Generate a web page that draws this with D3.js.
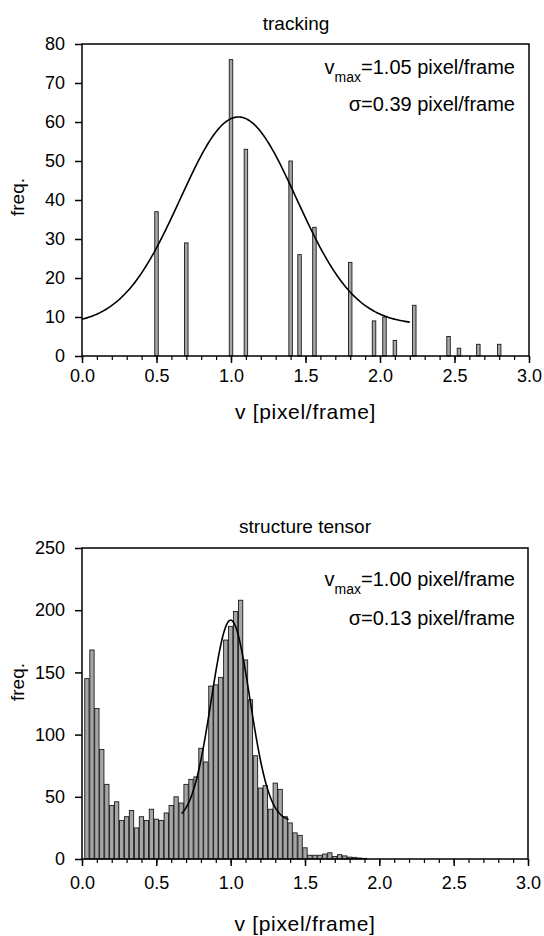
<!DOCTYPE html>
<html><head><meta charset="utf-8">
<script src="https://cdn.jsdelivr.net/npm/d3@7"></script>
<style>
body{margin:0;background:#fff}
svg{display:block}
text{font-family:"Liberation Sans",Arial,Helvetica,sans-serif;fill:#000}
</style>
</head><body>
<svg id="c" width="544" height="936"></svg>
<script>
// ---------- data ----------
const xMajorTicks = [0, 0.5, 1, 1.5, 2, 2.5, 3];
const xMinorTicks = [0,0.1,0.2,0.3,0.4,0.5,0.6,0.7,0.8,0.9,1,1.1,1.2,1.3,1.4,1.5,1.6,1.7,1.8,1.9,2,2.1,2.2,2.3,2.4,2.5,2.6,2.7,2.8,2.9,3];

// tracking panel
const trackV    = [0.5, 0.7, 1.0, 1.1, 1.4, 1.46, 1.56, 1.8, 1.96, 2.03, 2.1, 2.23, 2.46, 2.53, 2.66, 2.8];
const trackFreq = [37,  29,  76,  53,  50,  26,   33,   24,  9,    10,   4,   13,   5,    2,    3,    3];
const trackYTicks = [0, 10, 20, 30, 40, 50, 60, 70, 80];
const trackFit = [1.05, 0.39, 53.3, 8, 0, 2.2];   // center, sigma, amplitude, offset, from, to
const trackLegend = ["1.05", "0.39"];

// structure tensor panel
const stV = [0.033,0.067,0.100,0.133,0.167,0.200,0.233,0.267,0.300,0.333,
             0.367,0.400,0.433,0.467,0.500,0.533,0.567,0.600,0.633,0.667,
             0.700,0.733,0.767,0.800,0.833,0.867,0.900,0.933,0.967,1.000,
             1.033,1.067,1.100,1.133,1.167,1.200,1.233,1.267,1.300,1.333,
             1.367,1.400,1.433,1.467,1.500,1.533,1.567,1.600,1.633,1.667,
             1.700,1.733,1.767,1.800,1.833,1.867,1.900];
const stFreq = [145,168,121,88,60,43,46,31,34,39,
                25,34,31,40,32,31,37,43,50,45,
                60,64,66,89,78,139,140,146,176,187,
                199,208,160,128,83,57,59,40,61,56,
                34,29,21,19,9,3,3,3,4,5,
                2,3.5,2.5,1.5,1.3,0.8,0.5];
const stYTicks = [0, 50, 100, 150, 200, 250];
const stFit = [1.00, 0.13, 162, 30, 0.67, 1.39];
const stLegend = ["1.00", "0.13"];

// ---------- drawing ----------
const svg = d3.select("#c");
const FONT_TICK = 18;

function panel(o) {
  const x = d3.scaleLinear().domain([0, 3]).range([o.left, o.right]);
  const y = d3.scaleLinear().domain([0, o.yMax]).range([o.bottom, o.top]);
  const g = svg.append("g");

  // bars
  g.selectAll("rect.bar").data(o.v.map((v, i) => ({v, f: o.f[i]})))
    .enter().append("rect")
    .attr("x", d => x(d.v) - o.barW / 2)
    .attr("y", d => y(d.f))
    .attr("width", o.barW)
    .attr("height", d => y(0) - y(d.f))
    .attr("fill", "#a6a6a6")
    .attr("stroke", "#1a1a1a")
    .attr("stroke-width", 0.9);

  // fit curve
  const [c, s, A, b, a0, a1] = o.fit;
  const pts = d3.range(a0, a1 + 1e-9, (a1 - a0) / 200).map(v => [v, b + A * Math.exp(-((v - c) ** 2) / (2 * s * s))]);
  g.append("path").datum(pts)
    .attr("fill", "none").attr("stroke", "#000").attr("stroke-width", 1.6)
    .attr("d", d3.line().x(d => x(d[0])).y(d => y(d[1])));

  // box
  g.append("rect").attr("x", o.left).attr("y", o.top)
    .attr("width", o.right - o.left).attr("height", o.bottom - o.top)
    .attr("fill", "none").attr("stroke", "#000").attr("stroke-width", 1.5);

  // x axis minor
  const xm = g.append("g").attr("transform", `translate(0,${o.bottom})`)
    .call(d3.axisBottom(x).tickValues(xMinorTicks).tickSize(4).tickFormat(""));
  xm.select(".domain").remove();
  xm.selectAll("line").attr("stroke-width", 1.2);
  // x axis major
  const xa = g.append("g").attr("transform", `translate(0,${o.bottom})`)
    .call(d3.axisBottom(x).tickValues(xMajorTicks).tickSize(7).tickPadding(o.xPad).tickFormat(d3.format(".1f")));
  xa.select(".domain").remove();
  xa.selectAll("line").attr("stroke-width", 1.5);
  xa.selectAll("text").attr("font-size", FONT_TICK).attr("font-family", null);

  // y axis
  const ya = g.append("g").attr("transform", `translate(${o.left},0)`)
    .call(d3.axisLeft(y).tickValues(o.yTicks).tickSize(7).tickPadding(10));
  ya.select(".domain").remove();
  ya.selectAll("line").attr("stroke-width", 1.5);
  ya.selectAll("text").attr("font-size", FONT_TICK).attr("font-family", null);

  // title
  g.append("text").attr("x", o.titleX).attr("y", o.titleY).attr("text-anchor", "middle")
    .attr("font-size", 19).text(o.title);

  // x label
  g.append("text").attr("x", (o.left + o.right) / 2).attr("y", o.xLabelY).attr("text-anchor", "middle")
    .attr("font-size", 21).attr("letter-spacing", 0.7).text("v [pixel/frame]");

  // y label
  g.append("text").attr("transform", `translate(24,${o.yLabelY}) rotate(-90)`).attr("text-anchor", "middle")
    .attr("font-size", 19).text("freq.");

  // legend
  const l1 = g.append("text").attr("x", o.legX).attr("y", o.leg1Y).attr("text-anchor", "end").attr("font-size", 20);
  l1.append("tspan").text("v");
  l1.append("tspan").attr("font-size", 14).attr("dy", 8).text("max");
  l1.append("tspan").attr("dy", -8).text("=" + o.legend[0] + " pixel/frame");
  g.append("text").attr("x", o.legX).attr("y", o.leg2Y).attr("text-anchor", "end").attr("font-size", 20)
    .text("σ=" + o.legend[1] + " pixel/frame");
}

panel({left: 82, right: 529, top: 44, bottom: 356, yMax: 80, yTicks: trackYTicks,
       v: trackV, f: trackFreq, barW: 3.5, fit: trackFit, legend: trackLegend,
       title: "tracking", titleX: 296, titleY: 30, xPad: 6, xLabelY: 419, yLabelY: 197,
       legX: 515, leg1Y: 74, leg2Y: 111});

panel({left: 82, right: 528, top: 548, bottom: 859, yMax: 250, yTicks: stYTicks,
       v: stV, f: stFreq, barW: 4.3, fit: stFit, legend: stLegend,
       title: "structure tensor", titleX: 305, titleY: 533, xPad: 10, xLabelY: 931, yLabelY: 682,
       legX: 515, leg1Y: 586, leg2Y: 625});
</script>
</body></html>
